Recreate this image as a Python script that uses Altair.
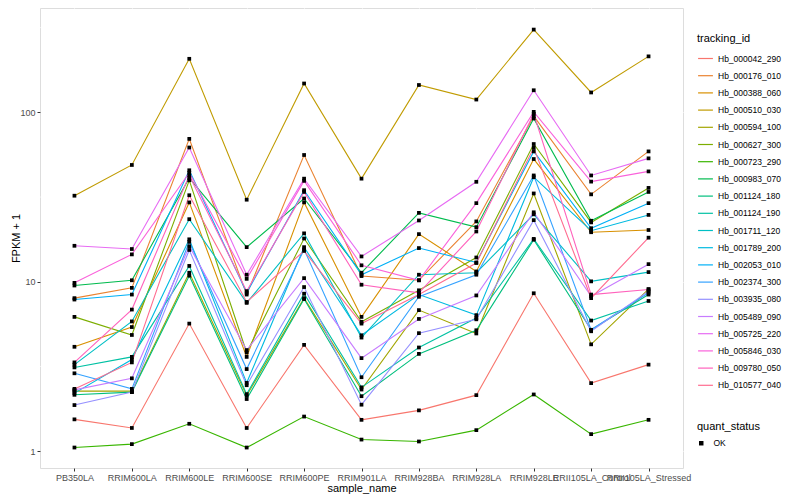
import altair as alt
import pandas as pd

samples = ["PB350LA", "RRIM600LA", "RRIM600LE", "RRIM600SE", "RRIM600PE", "RRIM901LA",
           "RRIM928BA", "RRIM928LA", "RRIM928LE", "RRII105LA_Control", "RRII105LA_Stressed"]

tracking_ids = ["Hb_000042_290", "Hb_000176_010", "Hb_000388_060", "Hb_000510_030",
                "Hb_000594_100", "Hb_000627_300", "Hb_000723_290", "Hb_000983_070",
                "Hb_001124_180", "Hb_001124_190", "Hb_001711_120", "Hb_001789_200",
                "Hb_002053_010", "Hb_002374_300", "Hb_003935_080", "Hb_005489_090",
                "Hb_005725_220", "Hb_005846_030", "Hb_009780_050", "Hb_010577_040"]

colors = ["#F8766D", "#EA8331", "#D89000", "#C09B00", "#A3A500", "#7CAE00", "#39B600",
          "#00BB4E", "#00BF7D", "#00C1A3", "#00BFC4", "#00BAE0", "#00B0F6", "#35A2FF",
          "#9590FF", "#C77CFF", "#E76BF3", "#FA62DB", "#FF62BC", "#FF6C90"]

# FPKM + 1 per tracking_id, in sample order
hb_000042_290 = [1.54, 1.37, 5.66, 1.37, 4.24, 1.53, 1.74, 2.14, 8.55, 2.52, 3.24]
hb_000176_010 = [8.0, 9.2, 69.7, 8.4, 56.0, 10.8, 10.2, 22.7, 95.0, 32.8, 58.8]
hb_000388_060 = [4.13, 5.4, 29.4, 3.6, 29.4, 6.2, 19.1, 11.5, 53.0, 19.6, 20.2]
hb_000510_030 = [32.2, 48.9, 207.0, 30.5, 148.0, 40.6, 145.0, 119.0, 308.0, 131.0, 214.0]
hb_000594_100 = [2.26, 2.26, 11.3, 2.13, 8.0, 2.31, 6.8, 4.95, 33.2, 4.27, 9.05]
hb_000627_300 = [6.2, 4.85, 39.7, 3.82, 18.0, 5.8, 8.9, 13.9, 65.0, 22.4, 35.8]
hb_000723_290 = [1.05, 1.10, 1.45, 1.05, 1.60, 1.17, 1.14, 1.33, 2.16, 1.26, 1.53]
hb_000983_070 = [9.5, 10.2, 41.0, 16.0, 31.0, 11.3, 25.5, 21.0, 92.0, 22.9, 33.9]
hb_001124_180 = [2.15, 2.23, 10.86, 2.03, 7.9, 2.11, 3.75, 5.17, 17.7, 5.2, 8.4]
hb_001124_190 = [3.12, 3.6, 12.4, 2.17, 8.5, 2.38, 4.09, 6.1, 17.9, 5.9, 7.7]
hb_001711_120 = [3.24, 5.83, 23.4, 7.5, 19.3, 4.68, 11.0, 11.3, 25.0, 10.05, 11.4]
hb_001789_200 = [2.2, 3.47, 17.8, 2.53, 16.0, 4.83, 8.4, 6.35, 41.4, 20.0, 24.8]
hb_002053_010 = [7.85, 8.4, 45.5, 8.6, 34.7, 11.0, 15.8, 13.0, 58.8, 20.7, 29.1]
hb_002374_300 = [2.88, 2.33, 17.2, 3.05, 15.5, 2.73, 8.15, 11.0, 42.4, 5.2, 8.6]
hb_003935_080 = [1.87, 2.23, 15.4, 2.45, 9.3, 1.88, 4.97, 6.0, 23.1, 5.1, 8.8]
hb_005489_090 = [2.30, 2.69, 16.2, 3.95, 10.5, 3.54, 6.03, 8.3, 25.7, 8.2, 12.7]
hb_005725_220 = [16.3, 15.6, 62.0, 11.0, 40.6, 14.1, 23.0, 38.9, 135.0, 42.4, 53.5]
hb_005846_030 = [9.85, 14.5, 44.0, 10.4, 39.4, 12.5, 10.2, 29.1, 100.6, 39.0, 44.8]
hb_009780_050 = [3.34, 6.85, 42.4, 8.8, 33.9, 9.6, 8.6, 19.8, 98.0, 8.4, 9.0]
hb_010577_040 = [2.33, 3.34, 32.4, 7.6, 15.2, 5.66, 8.4, 12.9, 61.7, 8.0, 18.2]

series = [hb_000042_290, hb_000176_010, hb_000388_060, hb_000510_030, hb_000594_100,
          hb_000627_300, hb_000723_290, hb_000983_070, hb_001124_180, hb_001124_190,
          hb_001711_120, hb_001789_200, hb_002053_010, hb_002374_300, hb_003935_080,
          hb_005489_090, hb_005725_220, hb_005846_030, hb_009780_050, hb_010577_040]

minor_breaks = [3.1623, 31.623, 316.23]
major_breaks = [1, 10, 100]

rows = []
for tid, vals in zip(tracking_ids, series):
    for s, v in zip(samples, vals):
        rows.append({"tracking_id": tid, "sample_name": s, "fpkm": v, "quant_status": "OK"})
df = pd.DataFrame(rows)
minor_df = pd.DataFrame({"fpkm": minor_breaks})

FONT = "Liberation Sans"

x_enc = alt.X("sample_name:N", sort=samples,
              scale=alt.Scale(type="point", padding=0.6),
              axis=alt.Axis(title="sample_name", labelAngle=0, grid=True, gridColor="white",
                            gridWidth=1.1, domain=False, ticks=True, tickColor="#333333",
                            tickSize=3, labelColor="#4D4D4D", labelFontSize=9, labelPadding=2,
                            labelOverlap=False, titleFontSize=11, titleFontWeight="normal",
                            titleColor="black", titlePadding=0, labelFont=FONT, titleFont=FONT))
y_scale = alt.Scale(type="log", domain=[0.795, 413], nice=False)
y_enc = alt.Y("fpkm:Q", scale=y_scale,
              axis=alt.Axis(title="FPKM + 1", values=major_breaks, format="d", grid=True,
                            gridColor="white", gridWidth=1.1, domain=False, tickColor="#333333",
                            tickSize=3, labelColor="#4D4D4D", labelFontSize=9, labelPadding=2,
                            titleFontSize=11, titleFontWeight="normal", titleColor="black",
                            titleX=-24, titleY=230, titleAngle=270, titleAlign="center",
                            titleBaseline="middle",
                            labelFont=FONT, titleFont=FONT))

minor = alt.Chart(minor_df).mark_rule(color="white", strokeWidth=0.6).encode(
    y=alt.Y("fpkm:Q", scale=y_scale)
)

lines = alt.Chart(df).mark_line(strokeWidth=1.1).encode(
    x=x_enc,
    y=y_enc,
    color=alt.Color("tracking_id:N", sort=tracking_ids,
                    scale=alt.Scale(domain=tracking_ids, range=colors),
                    legend=alt.Legend(title="tracking_id", orient="none", legendX=657, legendY=25,
                                      symbolType="stroke", symbolSize=220, symbolStrokeWidth=1.2,
                                      labelFontSize=8.5, titleFontSize=11, titleFontWeight="normal",
                                      labelFont=FONT, titleFont=FONT, rowPadding=4.2,
                                      labelOffset=4, titlePadding=6, labelLimit=200)),
    detail="tracking_id:N",
)

points = alt.Chart(df).mark_point(filled=True, color="black", opacity=1, size=14).encode(
    x=alt.X("sample_name:N", sort=samples),
    y=alt.Y("fpkm:Q"),
    shape=alt.Shape("quant_status:N", scale=alt.Scale(domain=["OK"], range=["square"]),
                    legend=alt.Legend(title="quant_status", orient="none", legendX=657, legendY=413,
                                      symbolSize=20, symbolFillColor="black", symbolStrokeColor="black",
                                      labelFontSize=8.5, titleFontSize=11, titleFontWeight="normal",
                                      labelFont=FONT, titleFont=FONT, titlePadding=7, labelOffset=8)),
)

chart = alt.layer(minor, lines, points).properties(
    width=643, height=460,
    autosize=alt.AutoSizeParams(type="none"),
    padding={"left": 32, "top": 0, "right": 109, "bottom": 32},
).configure_view(fill="#EBEBEB", stroke=None).configure(background="white")

chart.save("out.html", embed_options={"renderer": "svg", "actions": False})
